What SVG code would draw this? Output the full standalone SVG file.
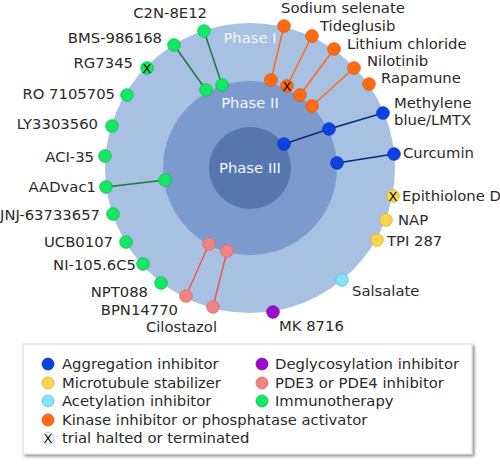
<svg xmlns="http://www.w3.org/2000/svg" width="500" height="471" viewBox="0 0 500 471">
<defs>
<filter id="sh" x="-5%" y="-10%" width="112%" height="130%">
<feGaussianBlur in="SourceAlpha" stdDeviation="1.5"/>
<feOffset dx="2" dy="2"/>
<feComponentTransfer><feFuncA type="linear" slope="0.45"/></feComponentTransfer>
<feMerge><feMergeNode/><feMergeNode in="SourceGraphic"/></feMerge>
</filter>
</defs>
<style>
text{font-family:"DejaVu Sans","Liberation Sans",sans-serif;font-size:14.8px;fill:#2a2a2a}
.ph{fill:#f2f5fb;text-anchor:middle}
.e{text-anchor:end}
.x{font-size:13px;fill:#111;text-anchor:middle}
circle.d{stroke-width:0.8}
.bl{fill:#0b42e6;stroke:#0a34b0}
.ye{fill:#fcd44e;stroke:#d8b030}
.cy{fill:#86e2f8;stroke:#5cc0dc}
.or{fill:#ff6a13;stroke:#e0560a}
.pu{fill:#9a0ccc;stroke:#7a0aa0}
.pk{fill:#f08484;stroke:#d86a6a}
.gr{fill:#12e862;stroke:#0cc04e}
.lg{stroke:#1a7a3c;stroke-width:1.5;fill:none}
.lo{stroke:#ff6a13;stroke-width:1.5;fill:none}
.lp{stroke:#f05555;stroke-width:1.5;fill:none}
.lb{stroke:#0a2a80;stroke-width:1.5;fill:none}
</style>
<rect width="500" height="471" fill="#ffffff"/>
<g id="phases">
<circle cx="250" cy="168" r="145" fill="#a8c0e1"/>
<circle cx="250" cy="168" r="87" fill="#7c9bcc"/>
<circle cx="250" cy="168" r="41" fill="#5676ae"/>
<text class="ph" x="250" y="43">Phase I</text>
<text class="ph" x="250" y="108">Phase II</text>
<text class="ph" x="250" y="173">Phase III</text>
</g>
<g id="connectors">
<line class="lg" x1="204" y1="31" x2="222" y2="85"/>
<line class="lg" x1="174" y1="45" x2="206" y2="90"/>
<line class="lg" x1="106" y1="187" x2="165" y2="180"/>
<line class="lp" x1="186" y1="296" x2="209" y2="244"/>
<line class="lp" x1="213" y1="307" x2="227" y2="251"/>
<line class="lo" x1="284" y1="26" x2="271" y2="80"/>
<line class="lo" x1="312" y1="36" x2="287" y2="86"/>
<line class="lo" x1="334" y1="49" x2="300" y2="95"/>
<line class="lo" x1="354" y1="68" x2="312" y2="106"/>
<line class="lb" x1="383" y1="113" x2="329" y2="129"/>
<line class="lb" x1="329" y1="129" x2="284" y2="144"/>
<line class="lb" x1="394" y1="154" x2="337" y2="163"/>
</g>
<g id="C2N-8E12"><circle class="d gr" cx="204" cy="31" r="6.3"/><circle class="d gr" cx="222" cy="85" r="6.3"/><text class="e" x="207" y="18">C2N-8E12</text></g>
<g id="BMS-986168"><circle class="d gr" cx="174" cy="45" r="6.3"/><circle class="d gr" cx="206" cy="90" r="6.3"/><text class="e" x="162" y="43">BMS-986168</text></g>
<g id="RG7345"><circle class="d gr" cx="147" cy="68" r="6.3"/><text class="x" x="147" y="72.5">X</text><text class="e" x="133" y="68">RG7345</text></g>
<g id="RO7105705"><circle class="d gr" cx="127" cy="95" r="6.3"/><text class="e" x="115" y="99">RO 7105705</text></g>
<g id="LY3303560"><circle class="d gr" cx="112" cy="126" r="6.3"/><text class="e" x="98" y="129">LY3303560</text></g>
<g id="ACI-35"><circle class="d gr" cx="105" cy="156" r="6.3"/><text class="e" x="94" y="162">ACI-35</text></g>
<g id="AADvac1"><circle class="d gr" cx="106" cy="187" r="6.3"/><circle class="d gr" cx="165" cy="180" r="6.3"/><text class="e" x="96" y="192">AADvac1</text></g>
<g id="JNJ-63733657"><circle class="d gr" cx="113" cy="214" r="6.3"/><text class="e" x="100" y="220">JNJ-63733657</text></g>
<g id="UCB0107"><circle class="d gr" cx="126" cy="242" r="6.3"/><text class="e" x="113" y="247">UCB0107</text></g>
<g id="NI-105.6C5"><circle class="d gr" cx="143" cy="264" r="6.3"/><text class="e" x="136" y="270">NI-105.6C5</text></g>
<g id="NPT088"><circle class="d gr" cx="161" cy="283" r="6.3"/><text class="e" x="148" y="297">NPT088</text></g>
<g id="BPN14770"><circle class="d pk" cx="186" cy="296" r="6.3"/><circle class="d pk" cx="209" cy="244" r="6.3"/><text class="e" x="178" y="315">BPN14770</text></g>
<g id="Cilostazol"><circle class="d pk" cx="213" cy="307" r="6.3"/><circle class="d pk" cx="227" cy="251" r="6.3"/><text class="e" x="217" y="332">Cilostazol</text></g>
<g id="MK8716"><circle class="d pu" cx="273" cy="312" r="6.3"/><text x="279" y="331">MK 8716</text></g>
<g id="Salsalate"><circle class="d cy" cx="342" cy="280" r="6.3"/><text x="352" y="296">Salsalate</text></g>
<g id="TPI287"><circle class="d ye" cx="377" cy="240" r="6.3"/><text x="387" y="246">TPI 287</text></g>
<g id="NAP"><circle class="d ye" cx="386" cy="220" r="6.3"/><text x="398" y="225">NAP</text></g>
<g id="EpithioloneD"><circle class="d ye" cx="393" cy="196" r="6.3"/><text class="x" x="393" y="200.5">X</text><text x="402" y="201">Epithiolone D</text></g>
<g id="Curcumin"><circle class="d bl" cx="394" cy="154" r="6.3"/><circle class="d bl" cx="337" cy="163" r="6.3"/><text x="403" y="158">Curcumin</text></g>
<g id="MethyleneBlue"><circle class="d bl" cx="383" cy="113" r="6.3"/><circle class="d bl" cx="329" cy="129" r="6.3"/><circle class="d bl" cx="284" cy="144" r="6.3"/><text x="394" y="108">Methylene</text><text x="394" y="125">blue/LMTX</text></g>
<g id="Rapamune"><circle class="d or" cx="369" cy="84" r="6.3"/><text x="381" y="83">Rapamune</text></g>
<g id="Nilotinib"><circle class="d or" cx="354" cy="68" r="6.3"/><circle class="d or" cx="312" cy="106" r="6.3"/><text x="367" y="66">Nilotinib</text></g>
<g id="LithiumChloride"><circle class="d or" cx="334" cy="49" r="6.3"/><circle class="d or" cx="300" cy="95" r="6.3"/><text x="347" y="49">Lithium chloride</text></g>
<g id="Tideglusib"><circle class="d or" cx="312" cy="36" r="6.3"/><circle class="d or" cx="287" cy="86" r="6.3"/><text class="x" x="287" y="90.5">X</text><text x="320" y="31">Tideglusib</text></g>
<g id="SodiumSelenate"><circle class="d or" cx="284" cy="26" r="6.3"/><circle class="d or" cx="271" cy="80" r="6.3"/><text x="281" y="12.5">Sodium selenate</text></g>
<g id="legend">
<rect x="23" y="344" width="449" height="110" fill="#ffffff" stroke="#d8d8d8" stroke-width="1" filter="url(#sh)"/>
<circle class="d bl" cx="48" cy="364" r="6"/><text x="62" y="369">Aggregation inhibitor</text>
<circle class="d ye" cx="48" cy="383" r="6"/><text x="62" y="388">Microtubule stabilizer</text>
<circle class="d cy" cx="48" cy="401" r="6"/><text x="62" y="406">Acetylation inhibitor</text>
<circle class="d or" cx="48" cy="420" r="6"/><text x="62" y="425">Kinase inhibitor or phosphatase activator</text>
<circle cx="48" cy="438" r="6" fill="#ffffff" stroke="#bbbbbb" stroke-width="0.8"/><text class="x" x="48" y="442.5">X</text><text x="62" y="443">trial halted or terminated</text>
<circle class="d pu" cx="262" cy="364" r="6"/><text x="275" y="369">Deglycosylation inhibitor</text>
<circle class="d pk" cx="262" cy="383" r="6"/><text x="275" y="388">PDE3 or PDE4 inhibitor</text>
<circle class="d gr" cx="262" cy="401" r="6"/><text x="275" y="406">Immunotherapy</text>
</g>
</svg>
